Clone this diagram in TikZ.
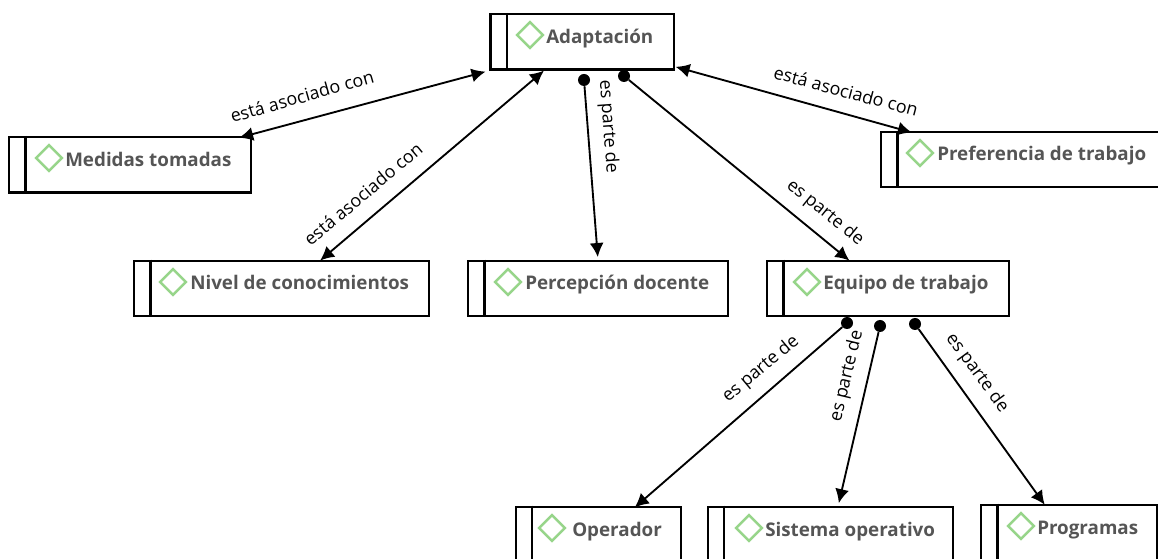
\documentclass[tikz,border=0pt]{standalone}
\usepackage{fontspec}
\setmainfont{Open Sans}
\usetikzlibrary{positioning,calc,shapes.geometric,arrows.meta}
\definecolor{markgreen}{HTML}{97D58A}
\definecolor{entitygray}{HTML}{555555}
\tikzstyle{entity}=[rectangle,draw=black,line width=1.6pt,minimum height=41.6pt,inner sep=0pt]
\tikzstyle{entity_bar}=[draw=black,line width=1.6pt]
\tikzstyle{mark_icon}=[diamond,draw=markgreen,line width=1.9pt,inner sep=0pt,minimum size=20pt,aspect=1]
\tikzstyle{entity_text}=[anchor=base west,inner sep=0pt,text=entitygray,font=\bfseries\fontsize{14.1}{18}\selectfont]
\tikzstyle{rel_text}=[inner sep=0pt,font=\fontsize{13.4}{16}\selectfont]
\tikzstyle{rel_dot}=[circle,fill=black,inner sep=0pt,minimum size=9pt]
\tikzstyle{assoc}=[<->,>={Latex[length=10.5pt,width=10.5pt]},line width=1.4pt]
\tikzstyle{part}=[->,>={Latex[length=10.5pt,width=10.5pt]},line width=1.4pt]

\begin{document}
\begin{tikzpicture}[x=.75pt,y=-.75pt]
  \clip (0,0) rectangle (1158,559);

  \node [entity, minimum width=137.6pt] at (582.2,41.8)  (adapt) {};
  \node [entity, minimum width=181.5pt] at (130,164.8)   (medidas) {};
  \node [entity, minimum width=221.2pt] at (281.5,288.5) (nivel) {};
  \node [entity, minimum width=195pt]   at (598,288.5)   (percep) {};
  \node [entity, minimum width=181.5pt] at (888,288.5)   (equipo) {};
  \node [entity, minimum width=210pt]   at (1021,159.5)  (pref) {};
  \node [entity, minimum width=123.8pt] at (598.5,534.5) (operador) {};
  \node [entity, minimum width=183.8pt] at (830.5,534.5) (sistema) {};
  \node [entity, minimum width=132pt]   at (1069,532.5)  (programas) {};

  \draw [entity_bar] ($(adapt.north west)+(17.5,0)$)     -- ($(adapt.south west)+(17.5,0)$);
  \draw [entity_bar] ($(medidas.north west)+(17.5,0)$)   -- ($(medidas.south west)+(17.5,0)$);
  \draw [entity_bar] ($(nivel.north west)+(17.5,0)$)     -- ($(nivel.south west)+(17.5,0)$);
  \draw [entity_bar] ($(percep.north west)+(17.5,0)$)    -- ($(percep.south west)+(17.5,0)$);
  \draw [entity_bar] ($(equipo.north west)+(17.5,0)$)    -- ($(equipo.south west)+(17.5,0)$);
  \draw [entity_bar] ($(pref.north west)+(17.5,0)$)      -- ($(pref.south west)+(17.5,0)$);
  \draw [entity_bar] ($(operador.north west)+(17.5,0)$)  -- ($(operador.south west)+(17.5,0)$);
  \draw [entity_bar] ($(sistema.north west)+(17.5,0)$)   -- ($(sistema.south west)+(17.5,0)$);
  \draw [entity_bar] ($(programas.north west)+(17.5,0)$) -- ($(programas.south west)+(17.5,0)$);

  \node [mark_icon] at (530,35)   (adapt_mark) {};
  \node [mark_icon] at (49,158)   (medidas_mark) {};
  \node [mark_icon] at (173,282)  (nivel_mark) {};
  \node [mark_icon] at (508,282)  (percep_mark) {};
  \node [mark_icon] at (807,282)  (equipo_mark) {};
  \node [mark_icon] at (920,153)  (pref_mark) {};
  \node [mark_icon] at (552,528)  (operador_mark) {};
  \node [mark_icon] at (749,528)  (sistema_mark) {};
  \node [mark_icon] at (1021,526) (programas_mark) {};

  \node [entity_text] at (546,44)   (adapt_text) {Adaptación};
  \node [entity_text] at (65,167)   (medidas_text) {Medidas tomadas};
  \node [entity_text] at (190,290)  (nivel_text) {Nivel de conocimientos};
  \node [entity_text] at (525,290)  (percep_text) {Percepción docente};
  \node [entity_text] at (823,290)  (equipo_text) {Equipo de trabajo};
  \node [entity_text] at (937,161)  (pref_text) {Preferencia de trabajo};
  \node [entity_text] at (572,537)  (operador_text) {Operador};
  \node [entity_text] at (765,537)  (sistema_text) {Sistema operativo};
  \node [entity_text] at (1037,535) (programas_text) {Programas};

  \node [rel_dot] at (584,80)  (dot_percep) {};
  \node [rel_dot] at (624,76)  (dot_equipo) {};
  \node [rel_dot] at (847,323) (dot_operador) {};
  \node [rel_dot] at (880,326) (dot_sistema) {};
  \node [rel_dot] at (915,324) (dot_programas) {};

  \draw [assoc, shorten <=3pt, shorten >=-5pt] (adapt.south west) to (medidas.14);
  \draw [assoc, shorten >=-1pt] (adapt.217) to (nivel.36);
  \draw [assoc, shorten <=.5pt, shorten >=-5pt] (adapt.-15) to (pref.166);
  \draw [part, shorten >=2pt] (dot_percep) to (percep.north);
  \draw [part, shorten >=-1pt] (dot_equipo) to (equipo.144);
  \draw [part, shorten >=-2pt] (dot_operador) to (operador.37);
  \draw [part, shorten >=2pt] (dot_sistema) to (sistema.75);
  \draw [part, shorten >=-1pt] (dot_programas) to (programas.131);

  \node [rel_text, rotate=16]    at (302,96)  (text_medidas) {está asociado con};
  \node [rel_text, rotate=40]    at (363,194) (text_nivel) {está asociado con};
  \node [rel_text, rotate=-15]   at (846,91)  (text_pref) {está asociado con};
  \node [rel_text, rotate=-85.8] at (608,127) (text_percep) {es parte de};
  \node [rel_text, rotate=-39]   at (825,213) (text_equipo) {es parte de};
  \node [rel_text, rotate=40]    at (761,369) (text_operador) {es parte de};
  \node [rel_text, rotate=76.6]  at (847,376) (text_sistema) {es parte de};
  \node [rel_text, rotate=-53.7] at (977,373) (text_programas) {es parte de};
\end{tikzpicture}
\end{document}
